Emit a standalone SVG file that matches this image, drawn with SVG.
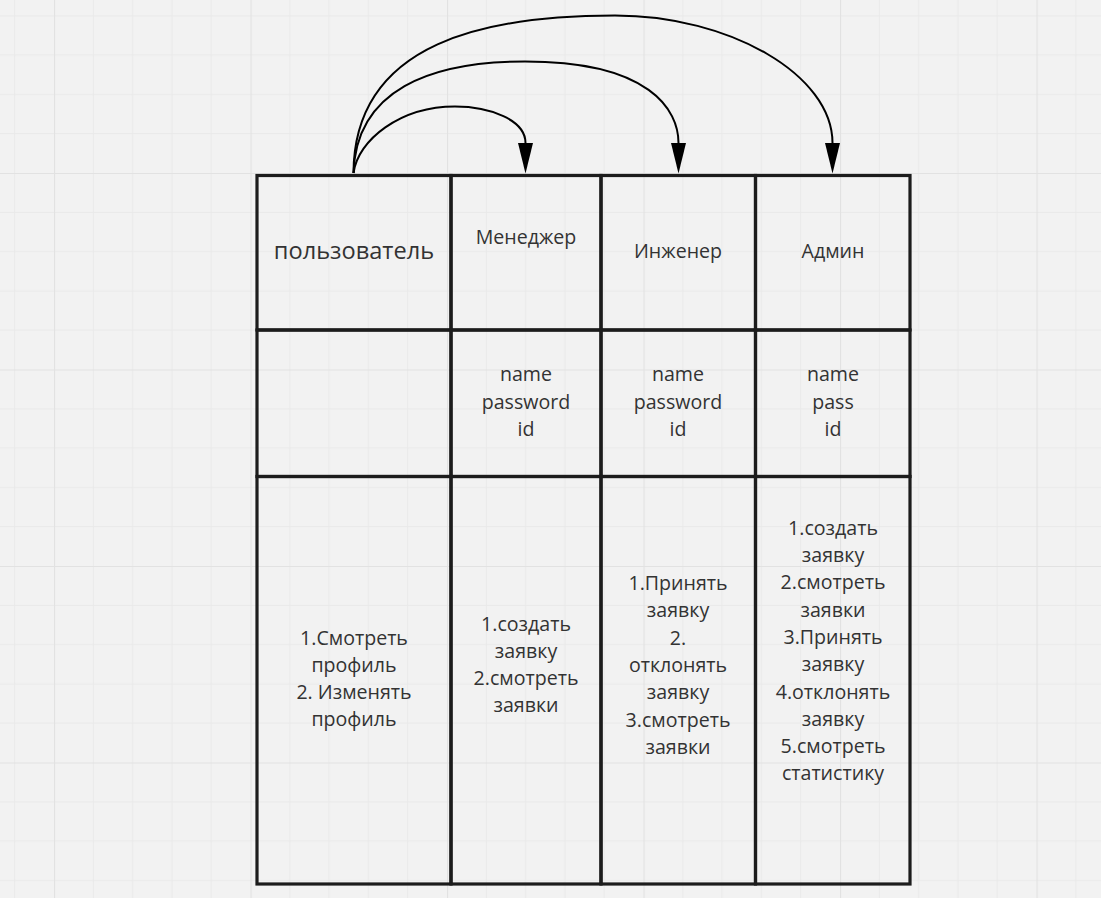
<svg xmlns="http://www.w3.org/2000/svg" width="1101" height="898" viewBox="0 0 1101 898">
  <style>
    .cell { fill: none; stroke: #1c1c1c; stroke-width: 3.2; }
    .t { font-family: "Open Sans", "Noto Sans", "DejaVu Sans", sans-serif; font-size: 19.6px; fill: #333333; text-anchor: middle; }
    .th { font-size: 23.6px; }
    .edge { fill: none; stroke: #000000; stroke-width: 2; }
  </style>
  <defs>
    <pattern id="grid" patternUnits="userSpaceOnUse" x="54" y="173" width="196.5" height="196.5">
      <path d="M39.3,0V196.5M78.6,0V196.5M117.9,0V196.5M157.2,0V196.5M0,39.3H196.5M0,78.6H196.5M0,117.9H196.5M0,157.2H196.5" stroke="#e9e9e9" stroke-width="1" fill="none"/>
      <path d="M0.5,0V196.5M0,0.5H196.5" stroke="#e2e2e2" stroke-width="1.2" fill="none"/>
    </pattern>
    <marker id="ah" markerUnits="userSpaceOnUse" markerWidth="32" markerHeight="16" refX="0" refY="7.5" orient="auto" overflow="visible">
      <path d="M0,0 L30.5,7.5 L0,15 Z" fill="#000000"/>
    </marker>
  </defs>
  <rect x="0" y="0" width="1101" height="898" fill="#f2f2f2"/>
  <rect x="0" y="0" width="1101" height="898" fill="url(#grid)"/>

  <g id="col-user">
    <rect class="cell" x="257" y="175.5" width="194" height="154.5"/>
    <rect class="cell" x="257" y="330" width="194" height="146.5"/>
    <rect class="cell" x="257" y="476.5" width="194" height="407.5"/>
    <text class="t th" x="354" y="258.5">пользователь</text>
    <text class="t" x="354" y="644.5">1.Смотреть</text>
    <text class="t" x="354" y="671.8">профиль</text>
    <text class="t" x="354" y="699.1">2. Изменять</text>
    <text class="t" x="354" y="726.4">профиль</text>
  </g>

  <g id="col-manager">
    <rect class="cell" x="451" y="175.5" width="150" height="154.5"/>
    <rect class="cell" x="451" y="330" width="150" height="146.5"/>
    <rect class="cell" x="451" y="476.5" width="150" height="407.5"/>
    <text class="t" x="526" y="243.5">Менеджер</text>
    <text class="t" x="526" y="381">name</text>
    <text class="t" x="526" y="408.5">password</text>
    <text class="t" x="526" y="436">id</text>
    <text class="t" x="526" y="630.5">1.создать</text>
    <text class="t" x="526" y="657.8">заявку</text>
    <text class="t" x="526" y="685.1">2.смотреть</text>
    <text class="t" x="526" y="712.4">заявки</text>
  </g>

  <g id="col-engineer">
    <rect class="cell" x="601" y="175.5" width="154.5" height="154.5"/>
    <rect class="cell" x="601" y="330" width="154.5" height="146.5"/>
    <rect class="cell" x="601" y="476.5" width="154.5" height="407.5"/>
    <text class="t" x="678" y="257.5">Инженер</text>
    <text class="t" x="678" y="381">name</text>
    <text class="t" x="678" y="408.5">password</text>
    <text class="t" x="678" y="436">id</text>
    <text class="t" x="678" y="590">1.Принять</text>
    <text class="t" x="678" y="617.3">заявку</text>
    <text class="t" x="678" y="644.6">2.</text>
    <text class="t" x="678" y="671.9">отклонять</text>
    <text class="t" x="678" y="699.2">заявку</text>
    <text class="t" x="678" y="726.5">3.смотреть</text>
    <text class="t" x="678" y="753.8">заявки</text>
  </g>

  <g id="col-admin">
    <rect class="cell" x="755.5" y="175.5" width="154.5" height="154.5"/>
    <rect class="cell" x="755.5" y="330" width="154.5" height="146.5"/>
    <rect class="cell" x="755.5" y="476.5" width="154.5" height="407.5"/>
    <text class="t" x="833" y="257.5">Админ</text>
    <text class="t" x="833" y="381">name</text>
    <text class="t" x="833" y="408.5">pass</text>
    <text class="t" x="833" y="436">id</text>
    <text class="t" x="833" y="534.7">1.создать</text>
    <text class="t" x="833" y="562">заявку</text>
    <text class="t" x="833" y="589.3">2.смотреть</text>
    <text class="t" x="833" y="616.6">заявки</text>
    <text class="t" x="833" y="643.9">3.Принять</text>
    <text class="t" x="833" y="671.2">заявку</text>
    <text class="t" x="833" y="698.5">4.отклонять</text>
    <text class="t" x="833" y="725.8">заявку</text>
    <text class="t" x="833" y="753.1">5.смотреть</text>
    <text class="t" x="833" y="780.4">статистику</text>
  </g>

  <g id="connectors">
    <path class="edge" marker-end="url(#ah)" d="M353.5,173 C358,140 400,106.5 455,106.5 C490,106.5 525.5,120 525.5,143"/>
    <path class="edge" marker-end="url(#ah)" d="M353.5,173 C356,90 430,61.5 525,61.5 C650,61.5 678.5,110 678.5,143"/>
    <path class="edge" marker-end="url(#ah)" d="M353.5,173 C354,40 490,15.5 615,15.5 C730,15.5 832.5,75 832.5,143"/>
  </g>
</svg>
